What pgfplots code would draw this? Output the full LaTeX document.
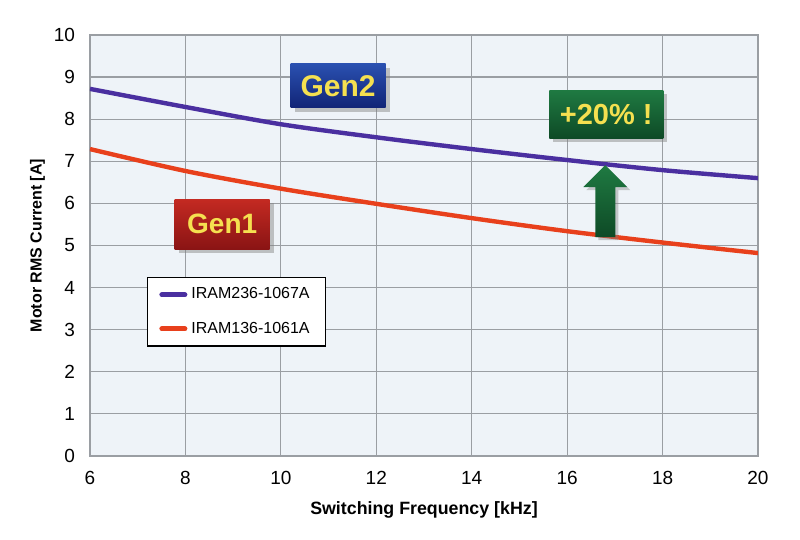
\documentclass[border=0pt]{standalone}
\usepackage{pgfplots}
\pgfplotsset{compat=1.18}
\usepackage{fontspec}
\setmainfont{Liberation Sans}
\usetikzlibrary{shadows}
\definecolor{bgc}{HTML}{EEF3F8}
\definecolor{gridc}{HTML}{9A9EA3}
\definecolor{blueline}{HTML}{4A2FA0}
\definecolor{redline}{HTML}{E8401C}
\definecolor{gtxt}{HTML}{F5E050}
\definecolor{boxblueT}{HTML}{2A50B0}
\definecolor{boxblueB}{HTML}{112476}
\definecolor{boxgreenT}{HTML}{1F7A42}
\definecolor{boxgreenB}{HTML}{0E4A26}
\definecolor{boxredT}{HTML}{C42A22}
\definecolor{boxredB}{HTML}{8A1414}
\begin{document}
\begin{tikzpicture}
\useasboundingbox (0,0) rectangle (400pt,270pt);
\begin{axis}[
  at={(45pt,42pt)}, anchor=south west,
  scale only axis, width=334pt, height=210.5pt,
  xmin=6, xmax=20, ymin=0, ymax=10,
  xtick={6,8,...,20}, ytick={0,1,...,10},
  grid=major, major grid style={gridc, line width=0.6pt},
  axis line style={gridc, line width=0.8pt},
  axis background/.style={fill=bgc},
  tick style={draw=none},
  tick label style={font=\fontsize{9.5}{11}\selectfont},
  xticklabel style={yshift=-4pt},
  yticklabel style={xshift=-4pt},
  /pgf/number format/assume math mode=true,
  xlabel={\textbf{Switching Frequency [kHz]}},
  ylabel={\textbf{Motor RMS Current [A]}},
  xlabel style={font=\fontsize{8.9}{10}\selectfont, yshift=-1.5pt},
  ylabel style={font=\fontsize{8}{10}\selectfont, yshift=-2.5pt},
  legend style={at={(axis cs:7.19,4.25)}, anchor=north west, draw=black, line width=0.6pt,
    font=\fontsize{8}{10}\selectfont, row sep=6pt, inner xsep=6pt, inner ysep=3pt,
    legend cell align=left},
  legend image code/.code={\draw[line width=2.5pt, line cap=round] (0pt,0pt) -- (11.5pt,0pt);},
]
\addplot[blueline, line width=2.2pt, smooth] coordinates {
 (6,8.72) (8,8.29) (10,7.88) (12,7.57) (14,7.29) (16,7.03) (18,6.79) (20,6.60)};
\addlegendentry{IRAM236-1067A}
\addplot[redline, line width=2.2pt, smooth] coordinates {
 (6,7.29) (8,6.77) (10,6.35) (12,5.99) (14,5.65) (16,5.34) (18,5.07) (20,4.82)};
\addlegendentry{IRAM136-1061A}

\path[top color=boxgreenT, bottom color=boxgreenB,
  drop shadow={opacity=0.4, shadow xshift=1.5pt, shadow yshift=-1.5pt}]
  (axis cs:16.8,6.91) -- ++(11pt,-11pt) -- ++(-6pt,0pt) -- ++(0pt,-25pt) -- ++(-10pt,0pt)
  -- ++(0pt,25pt) -- ++(-6pt,0pt) -- cycle;
\node[minimum width=47.5pt, minimum height=22pt, inner sep=0pt, top color=boxblueT, bottom color=boxblueB,
  drop shadow={opacity=0.45, shadow xshift=2pt, shadow yshift=-2pt},
  text=gtxt, font=\fontsize{15}{16}\selectfont\bfseries]
  at (axis cs:11.2,8.79) {Gen2};
\node[minimum width=57pt, minimum height=24pt, inner sep=0pt, top color=boxgreenT, bottom color=boxgreenB,
  drop shadow={opacity=0.45, shadow xshift=2pt, shadow yshift=-2pt},
  text=gtxt, font=\fontsize{14.5}{16}\selectfont\bfseries]
  at (axis cs:16.82,8.12) {+20\% !};
\node[minimum width=47.5pt, minimum height=25pt, inner sep=0pt, top color=boxredT, bottom color=boxredB,
  drop shadow={opacity=0.45, shadow xshift=2pt, shadow yshift=-2pt},
  text=gtxt, font=\fontsize{14}{16}\selectfont\bfseries]
  at (axis cs:8.77,5.51) {Gen1};
\end{axis}
\end{tikzpicture}
\end{document}
